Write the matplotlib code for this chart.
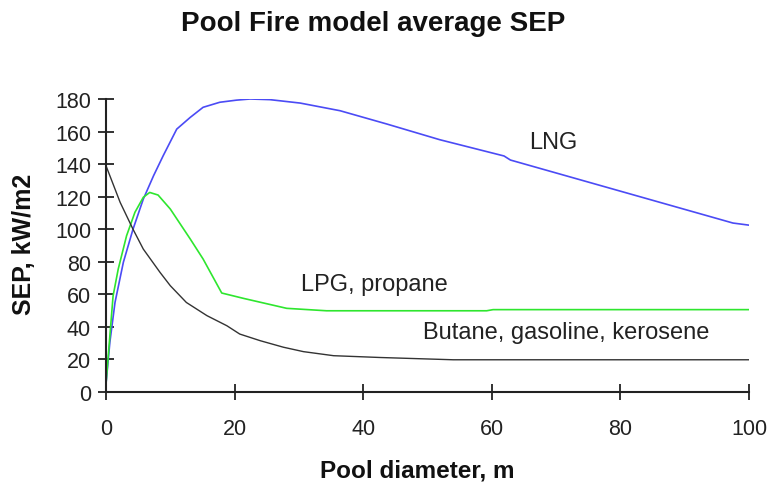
import matplotlib
matplotlib.use("Agg")
import matplotlib.pyplot as plt

plt.rcParams['font.family'] = ['Liberation Sans', 'DejaVu Sans']

# Values (pool diameter in m, SEP in kW/m2)
lng_x = [0, 0.6, 1.4, 2.7, 4.2, 5.8, 7.4, 8.9, 11, 13.1, 15.1, 17.7, 20.3,
         22.4, 25.5, 30.2, 36.4, 43.7, 51.9, 61.9, 62.9, 97.5, 100]
lng_y = [5, 30.5, 55, 79.7, 100, 118.5, 132.9, 145.2, 161.5, 168.7, 174.9, 178,
         179.3, 180, 179.6, 177.5, 172.8, 164.6, 155, 145, 142.5, 103.8, 102.5]

lpg_x = [0, 1.1, 1.9, 3.2, 4.5, 5.8, 6.8, 8.1, 10, 13.1, 15.1, 18, 21.4, 28.1,
         34.3, 59.2, 60.2, 100]
lpg_y = [5, 59, 75.5, 96, 110.4, 119.6, 122.6, 121, 112.4, 94, 81.7, 60.8, 57.5,
         51.4, 49.9, 49.9, 50.6, 50.6]

but_x = [0, 2.2, 4.2, 5.8, 8.4, 10, 12.5, 15.7, 18.8, 20.8, 24, 27.6, 30.7,
         35.4, 42.6, 54, 100]
but_y = [139, 116.5, 100, 87.8, 73.5, 65.3, 55, 46.9, 40.7, 35.6, 31.5, 27.5,
         24.8, 22.3, 21.2, 19.8, 19.8]

x_ticks = [0, 20, 40, 60, 80, 100]
y_ticks = list(range(0, 181, 20))

fig = plt.figure(figsize=(7.74, 4.89), dpi=100)
ax = fig.add_axes([106 / 774, 1 - 393 / 489, 643 / 774, 293 / 489])

ax.plot(lng_x, lng_y, color='#4b4bf5', lw=1.2)
ax.plot(lpg_x, lpg_y, color='#2ee62e', lw=1.2)
ax.plot(but_x, but_y, color='#333333', lw=1.0)

ax.text(69.5, 153.5, 'LNG', fontsize=17, ha='center', va='center', color='#222222')
ax.text(41.7, 66.3, 'LPG, propane', fontsize=17, ha='center', va='center', color='#222222')
ax.text(71.5, 36.8, 'Butane, gasoline, kerosene', fontsize=17, ha='center',
        va='center', color='#222222')

ax.set_xlim(0, 100)
ax.set_ylim(0, 180)
ax.set_xticks(x_ticks)
ax.set_yticks(y_ticks)

for side in ['top', 'right']:
    ax.spines[side].set_visible(False)
for side in ['left', 'bottom']:
    ax.spines[side].set_linewidth(1.5)
    ax.spines[side].set_color('#222222')

ax.tick_params(axis='both', direction='inout', length=11.5, width=1.3,
               color='#222222', labelsize=15.5, labelcolor='#222222')
ax.tick_params(axis='x', pad=13)
ax.tick_params(axis='y', pad=5)

fig.text(373.5 / 774, 1 - 24 / 489, 'Pool Fire model average SEP', fontsize=20,
         fontweight='bold', ha='center', va='center', color='#111111')
fig.text(417.5 / 774, 1 - 471 / 489, 'Pool diameter, m', fontsize=17.5,
         fontweight='bold', ha='center', va='center', color='#111111')
fig.text(24 / 774, 1 - 244 / 489, 'SEP, kW/m2', fontsize=18, fontweight='bold',
         ha='center', va='center', rotation=90, color='#111111')

fig.savefig('out.png', dpi=100, facecolor='white')
